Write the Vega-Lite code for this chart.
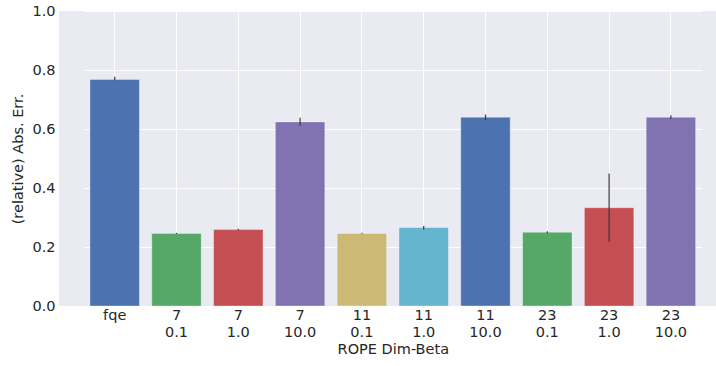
{
  "$schema": "https://vega.github.io/schema/vega-lite/v6.json",
  "width": 657,
  "height": 295,
  "autosize": {"type": "none"},
  "padding": {"left": 59, "top": 11, "right": 0, "bottom": 60},
  "background": "white",
  "config": {
    "view": {"fill": "#EAEAF2", "stroke": null},
    "font": "DejaVu Sans",
    "axis": {
      "domain": false,
      "ticks": false,
      "grid": true,
      "gridColor": "white",
      "gridWidth": 1,
      "labelFont": "DejaVu Sans",
      "labelFontSize": 14.5,
      "labelColor": "#262626",
      "titleFont": "DejaVu Sans",
      "titleFontSize": 14.5,
      "titleFontWeight": "normal",
      "titleColor": "#262626"
    }
  },
  "data": {
    "values": [
      {"setting": "fqe", "err": 0.768, "lo": 0.764, "hi": 0.777},
      {"setting": "7\n0.1", "err": 0.246, "lo": 0.244, "hi": 0.248},
      {"setting": "7\n1.0", "err": 0.259, "lo": 0.257, "hi": 0.262},
      {"setting": "7\n10.0", "err": 0.624, "lo": 0.611, "hi": 0.638},
      {"setting": "11\n0.1", "err": 0.246, "lo": 0.245, "hi": 0.248},
      {"setting": "11\n1.0", "err": 0.266, "lo": 0.259, "hi": 0.271},
      {"setting": "11\n10.0", "err": 0.640, "lo": 0.631, "hi": 0.649},
      {"setting": "23\n0.1", "err": 0.250, "lo": 0.247, "hi": 0.253},
      {"setting": "23\n1.0", "err": 0.333, "lo": 0.217, "hi": 0.449},
      {"setting": "23\n10.0", "err": 0.640, "lo": 0.634, "hi": 0.647}
    ]
  },
  "encoding": {
    "x": {
      "field": "setting",
      "type": "nominal",
      "sort": null,
      "title": "ROPE Dim-Beta",
      "scale": {"range": [24.8, 642.8], "paddingInner": 0.2, "paddingOuter": 0.1},
      "axis": {
        "labelAngle": 0,
        "labelExpr": "split(datum.label, '\\n')",
        "labelLineHeight": 17,
        "labelPadding": 2,
        "labelBaseline": "top",
        "bandPosition": 0.5,
        "titlePadding": 4
      }
    }
  },
  "layer": [
    {
      "mark": {"type": "bar", "stroke": "white", "strokeOpacity": 0.35, "strokeWidth": 1},
      "encoding": {
        "y": {
          "field": "err",
          "type": "quantitative",
          "title": "(relative) Abs. Err.",
          "scale": {"domain": [0, 1]},
          "axis": {"values": [0, 0.2, 0.4, 0.6, 0.8, 1.0], "format": ".1f", "labelPadding": 4, "titlePadding": 6}
        },
        "color": {
          "field": "setting",
          "type": "nominal",
          "sort": null,
          "legend": null,
          "scale": {"range": ["#4C72B0", "#55A868", "#C44E52", "#8172B2", "#CCB974", "#64B5CD", "#4C72B0", "#55A868", "#C44E52", "#8172B2"]}
        }
      }
    },
    {
      "mark": {"type": "rule", "color": "#3a3a3a", "strokeWidth": 1.2},
      "encoding": {
        "y": {"field": "lo", "type": "quantitative"},
        "y2": {"field": "hi"}
      }
    }
  ]
}
